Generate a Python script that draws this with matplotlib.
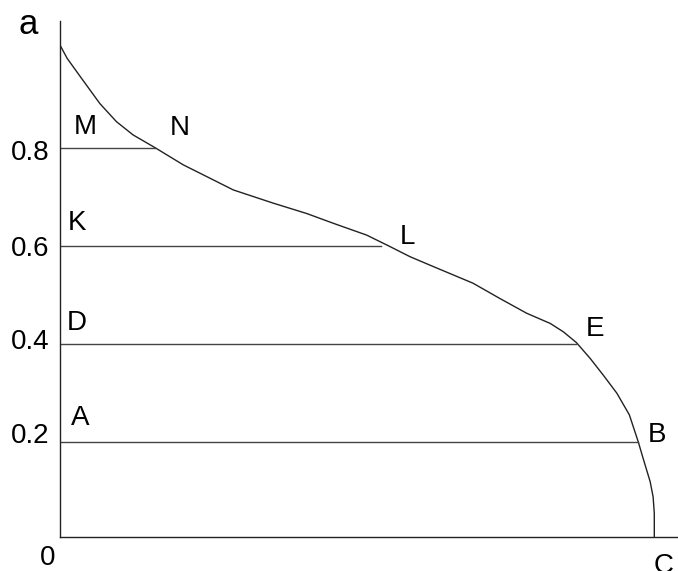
import matplotlib
matplotlib.use("Agg")
import matplotlib.pyplot as plt

plt.rcParams['font.family'] = ['Liberation Sans', 'DejaVu Sans']

# Curve (x as fraction of OC, y value)
curve_x = [0.0, 0.012, 0.034, 0.067, 0.095, 0.123, 0.160, 0.2075, 0.2356, 0.2916,
           0.359, 0.415, 0.460, 0.516, 0.553, 0.589, 0.628, 0.695, 0.740, 0.785,
           0.825, 0.847, 0.869, 0.892, 0.914, 0.937, 0.958, 0.973, 0.982, 0.993,
           0.998, 1.0, 1.0]
curve_y = [1.009, 0.982, 0.945, 0.890, 0.853, 0.826, 0.800, 0.765, 0.748, 0.714,
           0.687, 0.666, 0.646, 0.622, 0.600, 0.578, 0.558, 0.524, 0.493, 0.463,
           0.442, 0.425, 0.403, 0.371, 0.337, 0.300, 0.256, 0.201, 0.164, 0.120,
           0.089, 0.055, 0.0]

# Horizontal segments
seg_levels = [0.8, 0.6, 0.4, 0.2]
seg_ends = [0.160, 0.540, 0.869, 0.973]

W, H = 678, 571
fig = plt.figure(figsize=(W / 100, H / 100), dpi=100)
ax = fig.add_axes([60 / W, (H - 537) / H, (W - 60) / W, (537 - 21) / H])
ax.set_xlim(0, (W - 60) / 594.3)
ax.set_ylim((540.5 - 537) / 491, (540.5 - 21) / 491)

ax.plot(curve_x, curve_y, color='#222222', lw=1.0)
for lev, end in zip(seg_levels, seg_ends):
    ax.plot([0, end], [lev, lev], color='#444444', lw=1.0)

for s in ['top', 'right']:
    ax.spines[s].set_visible(False)
for s in ['left', 'bottom']:
    ax.spines[s].set_color('#222222')
    ax.spines[s].set_linewidth(1.0)
ax.set_xticks([])
ax.set_yticks([])

def t(x, y, s, size=20):
    fig.text(x / W, 1 - y / H, s, ha='center', va='center', fontsize=size)

t(28, 24, 'a', 25)
tick_labels = ['0.8', '0.6', '0.4', '0.2']
tick_pos = [153, 249, 342, 436]
for lab, py in zip(tick_labels, tick_pos):
    t(30, py, lab)
t(48, 558, '0')
t(664, 566, 'C')
point_labels = ['M', 'N', 'K', 'L', 'D', 'E', 'A', 'B']
point_pos = [(85, 127), (180, 128), (77, 223), (407, 237), (77, 323), (595, 329), (80, 418), (657, 435)]
for lab, (px, py) in zip(point_labels, point_pos):
    t(px, py, lab)

fig.savefig('out.png', dpi=100)
